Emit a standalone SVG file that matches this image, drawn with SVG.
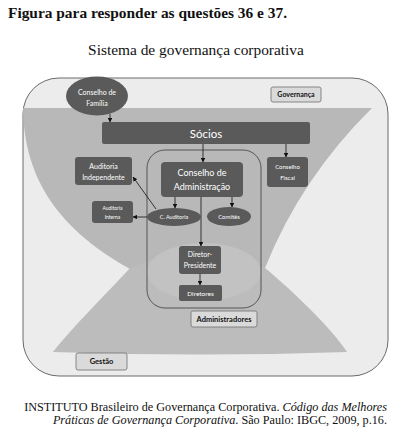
<svg xmlns="http://www.w3.org/2000/svg" width="401" height="437" viewBox="0 0 401 437">
<style>
.node{fill:#5a5a5a;}
.nt{font-family:Lato,"Open Sans",sans-serif;fill:#ffffff;text-anchor:middle;}
.lbl{fill:#dadada;stroke:#707070;stroke-width:0.8;}
.lt{font-family:Lato,"Open Sans",sans-serif;fill:#111;font-weight:bold;text-anchor:middle;}
.conn{stroke:#111;stroke-width:0.8;fill:none;}
.serif{font-family:"Liberation Serif","Times New Roman",serif;fill:#111;}
</style>
<defs>
<marker id="ah" viewBox="0 0 6 6" refX="5.5" refY="3" markerWidth="4.5" markerHeight="4.5" orient="auto" markerUnits="userSpaceOnUse">
<path d="M0,0 L6,3 L0,6 Z" fill="#111"/>
</marker>
</defs>
<rect width="401" height="437" fill="#ffffff"/>
<text class="serif" x="8" y="18" font-size="15.4" font-weight="bold">Figura para responder as questões 36 e 37.</text>
<text class="serif" x="196" y="55" font-size="15.4" text-anchor="middle">Sistema de governança corporativa</text>

<g id="background">
<rect x="23" y="78" width="365" height="298" rx="36" fill="#ececec" stroke="#6a6a6a" stroke-width="1"/>
<path d="M23,108 L372,108 Q301,178 265,268 Q200,300 132,270 C50,225 24,170 23,108 Z" fill="#b8b8b8"/>
<path d="M130,268 Q197,238 265,268 C280,280 330,325 347,352 Q200,357 53,352 C70,330 105,295 130,268 Z" fill="#bcbcbc"/>
<ellipse cx="204" cy="272" rx="57" ry="29" fill="#c2c2c2"/>
</g>

<g id="administradores-box">
<rect x="147" y="150" width="114" height="158" rx="18" fill="none" stroke="#555" stroke-width="1"/>
</g>

<g id="connectors">
<line class="conn" x1="110" y1="114" x2="110" y2="122" marker-end="url(#ah)"/>
<line class="conn" x1="203" y1="144" x2="203" y2="162" marker-end="url(#ah)"/>
<line class="conn" x1="286" y1="144" x2="286" y2="157" marker-end="url(#ah)"/>
<line class="conn" x1="175" y1="197" x2="175" y2="208" marker-end="url(#ah)"/>
<line class="conn" x1="232" y1="197" x2="232" y2="207" marker-end="url(#ah)"/>
<line class="conn" x1="201" y1="197" x2="201" y2="246" marker-end="url(#ah)"/>
<line class="conn" x1="156" y1="209" x2="133" y2="177" marker-end="url(#ah)"/>
<line class="conn" x1="147" y1="217" x2="133" y2="217" marker-end="url(#ah)"/>
<line class="conn" x1="200" y1="274" x2="200" y2="285" marker-end="url(#ah)"/>
</g>

<g id="conselho-familia">
<ellipse class="node" cx="97" cy="96" rx="31" ry="19.5"/>
<text class="nt" x="97" y="95" font-size="7">Conselho de</text>
<text class="nt" x="97" y="106" font-size="7">Família</text>
</g>

<g id="socios">
<rect class="node" x="102" y="122" width="208" height="22" rx="2"/>
<text class="nt" x="206" y="137.5" font-size="11.5">Sócios</text>
</g>

<g id="auditoria-independente">
<rect class="node" x="75" y="157" width="57" height="28" rx="3"/>
<text class="nt" x="103.5" y="169" font-size="7">Auditoria</text>
<text class="nt" x="103.5" y="180" font-size="7">Independente</text>
</g>

<g id="conselho-fiscal">
<rect class="node" x="267" y="157" width="41" height="30" rx="3"/>
<text class="nt" x="287.5" y="169" font-size="6">Conselho</text>
<text class="nt" x="287.5" y="180" font-size="6">Fiscal</text>
</g>

<g id="conselho-administracao">
<rect class="node" x="161" y="162" width="82" height="35" rx="4"/>
<text class="nt" x="202" y="176" font-size="9">Conselho de</text>
<text class="nt" x="202" y="190" font-size="9">Administração</text>
</g>

<g id="auditoria-interna">
<rect class="node" x="92" y="201" width="41" height="22" rx="3"/>
<text class="nt" x="112.5" y="210" font-size="5" fill="#d0d0d0">Auditoria</text>
<text class="nt" x="112.5" y="218.5" font-size="5" fill="#d0d0d0">Interna</text>
</g>

<g id="c-auditoria">
<ellipse class="node" cx="174" cy="217" rx="27" ry="9"/>
<text class="nt" x="174" y="219" font-size="5.5">C. Auditoria</text>
</g>

<g id="comites">
<ellipse class="node" cx="229" cy="216.5" rx="22" ry="9.5"/>
<text class="nt" x="229" y="218.5" font-size="6">Comitês</text>
</g>

<g id="diretor-presidente">
<rect class="node" x="179" y="246" width="42" height="28" rx="3"/>
<text class="nt" x="200" y="257" font-size="7">Diretor-</text>
<text class="nt" x="200" y="268" font-size="7">Presidente</text>
</g>

<g id="diretores">
<rect class="node" x="179" y="285" width="43" height="16" rx="2"/>
<text class="nt" x="200.5" y="295.5" font-size="6.5">Diretores</text>
</g>

<g id="label-governanca">
<rect class="lbl" x="271" y="87" width="50" height="15" rx="2"/>
<text class="lt" x="296" y="97" font-size="7">Governança</text>
</g>

<g id="label-administradores">
<rect class="lbl" x="191" y="311" width="66" height="16" rx="2"/>
<text class="lt" x="224" y="321.5" font-size="7.5">Administradores</text>
</g>

<g id="label-gestao">
<rect class="lbl" x="76" y="353" width="51" height="17" rx="2"/>
<text class="lt" x="101.5" y="364" font-size="7.5">Gestão</text>
</g>

<text class="serif" x="387" y="410.5" font-size="12.2" text-anchor="end">INSTITUTO Brasileiro de Governança Corporativa. <tspan font-style="italic">Código das Melhores</tspan></text>
<text class="serif" x="387" y="423.5" font-size="12.2" text-anchor="end"><tspan font-style="italic">Práticas de Governança Corporativa</tspan>. São Paulo: IBGC, 2009, p.16.</text>
</svg>
